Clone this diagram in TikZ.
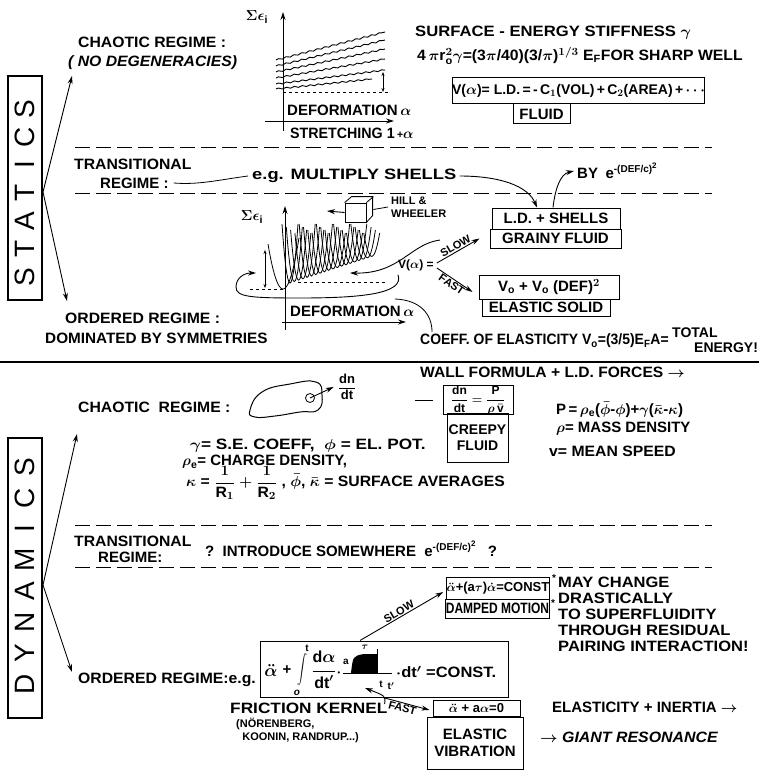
\documentclass[tikz,border=0pt]{standalone}
\usepackage{graphicx}
\usepackage{fontspec}
\setmainfont{Liberation Sans}
\usetikzlibrary{arrows.meta,positioning,calc,decorations.pathmorphing}
\newcommand{\gexp}{e\raisebox{6pt}{\fontsize{10}{10}\selectfont -(DEF/c)\raisebox{4pt}{\fontsize{8}{8}\selectfont 2}}}

\begin{document}
\begin{tikzpicture}[x=1pt, y=-1pt,
font=\fontsize{15}{17}\selectfont\bfseries\boldmath,
txt/.style={anchor=west, inner sep=0pt},
smalltxt/.style={txt, font=\fontsize{11}{13}\selectfont\bfseries},
formbox/.style={draw, line width=1pt, inner sep=0pt, align=center},
sidebox/.style={draw, line width=1.2pt, minimum width=34pt},
letter/.style={rotate=90, font=\fontsize{28}{28}\selectfont},
arr/.style={-{Stealth[length=8pt, width=5pt]}, line width=0.9pt},
dbl/.style={{Stealth[length=4pt, width=3pt]}-{Stealth[length=4pt, width=3pt]}, line width=0.8pt},
fine/.style={line width=0.8pt},
sep/.style={line width=1pt, dash pattern=on 15pt off 6pt},
wave/.style={line width=0.9pt, decorate, decoration={snake, amplitude=0.7pt, segment length=8pt}},
tag/.style={font=\fontsize{11}{11}\selectfont\bfseries, inner sep=1pt},
tiny/.style={font=\fontsize{10}{10}\selectfont\bfseries\boldmath, inner sep=0pt}
]
\useasboundingbox (0,0) rectangle (759,770);

% ---- statics ----
\node[sidebox, minimum height=224pt] (statics) at (25,188) {};
\foreach \ch [count=\i from 0] in {S,T,A,T,I,C,S}
  \node[letter] at (25,{277-\i*28}) {\ch};
\coordinate (sfork) at (43,192);
\coordinate (schaos) at (72,76);
\coordinate (sorder) at (67,301);
\draw[arr] (sfork) -- (schaos);
\draw[arr] (sfork) -- (sorder);

\node[txt, xscale=1.05] (schaotic) at (78,42) {CHAOTIC REGIME :};
\node[txt, xscale=1.05, font=\fontsize{15}{17}\selectfont\bfseries\itshape] (nodeg) at (68,63) {( NO DEGENERACIES)};

% smooth spectrum
\draw[arr] (283,131) -- (283,12);
\node at (257,17) {$\Sigma\epsilon_{\mathrm i}$};
\foreach \ya/\yb/\xe in {60/32/385, 66/40/385, 72/49/385, 78/59/385, 84/70/385, 89/79/372}
  \draw[wave] (276,\ya) -- (\xe,\yb);
\draw[dashed, fine] (283,92) -- (390,92);
\draw[dbl] (383,72) -- (383,92);
\draw[arr] (265,121) -- (394,121);
\node[txt] (sdef) at (287,110) {DEFORMATION\,$\alpha$};
\node[txt, xscale=0.95] (sstr) at (290,133) {STRETCHING 1\,{\fontsize{11}{11}\selectfont+}$\alpha$};

\node[txt, xscale=1.11] (surf) at (415,33) {SURFACE - ENERGY STIFFNESS $\gamma$};
\node[txt, xscale=1.05] (sharp) at (417,56) {4\,$\pi$r$_{\mathrm o}^2\gamma$=(3$\pi$/40)(3/$\pi$)$^{1/3}$ E$_{\mathrm F}$FOR SHARP WELL};
\node[formbox, minimum width=219pt, minimum height=26pt, font=\fontsize{14}{16}\selectfont\bfseries\boldmath] (vld) at (578.5,91) {V($\alpha$)= L.D.\,=\,-\,C$_1$(VOL)\,+\,C$_2$(AREA)\,+\,$\cdots$};
\node[formbox, minimum width=57pt, minimum height=20pt] (fluid) at (541.5,114) {FLUID};

\draw[sep] (75,148) -- (712,148);
\node[txt, xscale=1.05] (strans) at (74,164) {TRANSITIONAL};
\node[txt] (stransb) at (100,183) {REGIME :};
\node[txt, xscale=1.22] (shells) at (252,176) {e.g. MULTIPLY SHELLS};
\draw[fine] ([xshift=5pt]stransb.east) .. controls +(25,2) and +(-30,4) .. ([xshift=-4pt]shells.west);
\node[txt] (by) at (577,171) {BY\enspace\gexp};
\draw[sep] (75,193) -- (712,193);

% shell-corrected spectrum
\draw[arr] (285,330) -- (285,206);
\node at (252,217) {$\Sigma\epsilon_{\mathrm i}$};
\draw[arr] (282,322) -- (406,322);
\node[txt] (odef) at (290,311) {DEFORMATION\,$\alpha$};
\draw[fine] plot[domain=-15:16, samples=25] ({283+\x},{289-0.2*\x*\x});
\foreach \i in {0,...,19} {
  \pgfmathsetmacro\xo{290+4.3*\i}
  \pgfmathsetmacro\yo{283-1.4*\i}
  \pgfmathsetmacro\kk{(\yo-224-mod(\i,4)*3)/64}
  \draw[fine] plot[domain=-8:8, samples=15] ({\xo+\x},{\yo-\kk*\x*\x});
}
\draw[dashed, fine] (250,289) -- (283,289);
\draw[dashed, fine] (298,282) -- (387,282);
\draw[dbl] (265,250) -- (265,288);

% Hill-Wheeler cube
\node[draw, fine, minimum width=21pt, minimum height=19pt, inner sep=0pt] (cube) at (355.5,212.5) {};
\draw[fine] (cube.north west) -- ++(7,-6) -- ++(21,0) -- ++(0,19) -- (cube.south east);
\draw[fine] (cube.north east) -- ++(7,-6);
\node[smalltxt, align=left] (hill) at (391,207) {HILL \&\\WHEELER};
\coordinate (cubeL) at (327,211);
\draw[arr] (cube.west) -- (cubeL);
\draw[fine] ([xshift=7pt,yshift=3pt]cube.east) -- ([xshift=-3pt]hill.west);

\node[formbox, minimum width=128pt, minimum height=21pt] (ldsh) at (556,218.5) {L.D. + SHELLS};
\node[formbox, minimum width=131pt, minimum height=19pt] (grainy) at (555.5,238.5) {GRAINY FLUID};
\draw[arr] ([xshift=3pt]shells.east) .. controls (500,176) and (528,186) .. ([xshift=-19pt]ldsh.north);
\draw[arr] ([xshift=-3pt]ldsh.north) .. controls (555,190) and (560,174) .. ([xshift=-3pt]by.west);

\node[formbox, minimum width=140pt, minimum height=24pt] (vo) at (549,287) {V$_{\mathrm o}$ + V$_{\mathrm o}$ (DEF)$^2$};
\node[formbox, minimum width=128pt, minimum height=17pt] (esolid) at (546,307.5) {ELASTIC SOLID};

\node[txt, font=\fontsize{12}{12}\selectfont\bfseries\boldmath] (valpha) at (398,265) {V($\alpha$) =};
\draw[arr] ([xshift=3pt,yshift=2pt]valpha.east) -- node[sloped, above, tag] {SLOW} ([xshift=-10pt]grainy.west);
\draw[arr] ([xshift=3pt,yshift=-3pt]valpha.east) -- node[sloped, below, tag] {FAST} ([xshift=-6pt,yshift=-5pt]vo.west);
\coordinate (upstart) at (440,240);
\coordinate (envR) at (350,273);
\draw[arr] (upstart) .. controls (410,244) and (400,274) .. (envR);
\coordinate (loopEnd) at (256,273);
\draw[arr] ([yshift=-4pt]valpha.south west) .. controls (405,294) and (360,298) .. (300,298) .. controls (250,298) and (236,297) .. (236,287) .. controls (236,278) and (244,273) .. (loopEnd);

\node[txt, xscale=1.05] (sorder1) at (65,318) {ORDERED REGIME :};
\node[txt, xscale=1.02] (sorder2) at (45,338) {DOMINATED BY SYMMETRIES};

\node[txt, xscale=0.93] (coeff) at (420,341) {COEFF. OF ELASTICITY V$_{\mathrm o}$=(3/5)E$_{\mathrm F}$A=};
\node[txt, font=\fontsize{14}{14}\selectfont\bfseries] (total) at (672,333) {TOTAL};
\node[txt, font=\fontsize{14}{14}\selectfont\bfseries] (energy) at (694,348) {ENERGY!};
\coordinate (coeffJoin) at (395,299);
\draw[fine] ([xshift=12pt, yshift=2pt]coeff.north west) .. controls (432,314) and (420,300) .. (coeffJoin);

\draw[line width=1.2pt] (0,362) -- (759,362);

% ---- dynamics ----
\node[sidebox, minimum height=280pt] (dynamics) at (25,578) {};
\foreach \ch [count=\i from 0] in {D,Y,N,A,M,I,C,S}
  \node[letter] at (25,{684-\i*31}) {\ch};
\coordinate (dfork) at (43,585);
\coordinate (dchaos) at (77,434);
\coordinate (dorder) at (72,672);
\draw[arr] (dfork) -- (dchaos);
\draw[arr] (dfork) -- (dorder);

\node[txt, xscale=1.05] (dchaotic) at (78,407) {CHAOTIC\ \ REGIME :};
\draw[line width=1pt] plot[smooth cycle, tension=0.8] coordinates {(250,410) (262,392) (290,384) (316,382) (322,395) (318,410) (300,412) (275,416) (255,417)};
\node[circle, draw, fine, minimum size=9pt, inner sep=0pt] (dot) at (310,398) {};
\node[inner sep=1pt, font=\fontsize{13}{13}\selectfont\bfseries] (dndt) at (347,387) {$\displaystyle\frac{\mbox{dn}}{\mbox{dt}}$};
\draw[arr] (dot.center) -- ([xshift=-3pt]dndt.west);

\node[txt, xscale=1.04] (wall) at (420,372) {WALL FORMULA + L.D. FORCES $\rightarrow$};
\node[formbox, minimum width=70pt, minimum height=26pt, font=\fontsize{12}{12}\selectfont\bfseries\boldmath] (dnbox) at (478,400) {$\displaystyle\frac{\mbox{dn}}{\mbox{dt}} = \frac{\mbox{P}}{\rho\,\bar{\mbox{v}}}$};
\node[formbox, minimum width=61pt, minimum height=49pt, font=\fontsize{14}{16}\selectfont\bfseries] (creepy) at (477.5,437.5) {CREEPY\\FLUID};
\draw[fine] ([xshift=-10pt]dnbox.west) -- ([xshift=-28pt]dnbox.west);

\node[txt] (pform) at (556,410) {P\,=\,$\rho_{\mathrm e}$($\bar\phi$-$\phi$)+$\gamma$($\bar\kappa$-$\kappa$)};
\node[txt] (rho) at (556,429) {$\rho$= MASS DENSITY};
\node[txt, xscale=1.05] (vmean) at (549,451) {v= MEAN SPEED};

\node[txt, xscale=1.15] (gam) at (190,446) {$\gamma$= S.E. COEFF,\ \ $\phi$ = EL. POT.};
\node[txt] (rhoe) at (182,462) {$\rho_{\mathrm e}$= CHARGE DENSITY,};
\node[txt, xscale=1.05] (kap) at (186,483) {$\kappa$ = $\displaystyle\frac{1}{\mbox{R}_1}+\frac{1}{\mbox{R}_2}$ , $\bar\phi$, $\bar\kappa$ = SURFACE AVERAGES};

\draw[sep] (75,525) -- (712,525);
\node[txt, xscale=1.05] (dtrans) at (74,541) {TRANSITIONAL};
\node[txt] (dtransb) at (98,557) {REGIME:};
\node[txt] (intro) at (205,549) {?\ \ INTRODUCE SOMEWHERE\ \ \gexp\ \ \ ?};
\draw[sep] (75,567) -- (712,567);

\node[formbox, minimum width=100pt, minimum height=22pt, font=\fontsize{13}{13}\selectfont\bfseries\boldmath] (damp) at (498,588) {$\ddot\alpha$+(a$\tau$)$\dot\alpha$=CONST};
\node[formbox, minimum width=101pt, minimum height=19pt] (dmot) at (497.5,608.5) {\scalebox{0.8}[1]{DAMPED MOTION}};
\node[txt, font=\fontsize{10}{10}\selectfont\bfseries] (ast1) at (551,603) {*};
\node[txt, font=\fontsize{10}{10}\selectfont\bfseries] (ast2) at (552,578) {*};
\node[txt, align=left, xscale=1.1, font=\fontsize{15}{16}\selectfont\bfseries] (maych) at (558,614) {MAY CHANGE\\DRASTICALLY\\TO SUPERFLUIDITY\\THROUGH RESIDUAL\\PAIRING INTERACTION!};

% friction kernel equation
\node[formbox, minimum width=248pt, minimum height=56pt] (fric) at (384,669) {};
\node[inner sep=0pt, font=\fontsize{16}{16}\selectfont\bfseries\boldmath] (fdd) at (271,670) {$\ddot\alpha$};
\node[inner sep=0pt] (fplus) at (287,670) {+};
\node[inner sep=0pt, font=\fontsize{20}{20}\selectfont] (fintg) at (302,670) {\scalebox{1}[1.45]{$\displaystyle\int$}};
\node[tiny] (ftop) at (307,648) {t};
\node[tiny, font=\fontsize{10}{10}\selectfont\itshape\bfseries] (fbot) at (297,693) {o};
\node[inner sep=0pt, font=\fontsize{16}{16}\selectfont\bfseries\boldmath] (ffrac) at (324,670) {$\displaystyle\frac{\mbox{d}\alpha}{\mbox{dt}'}$};
\node[inner sep=0pt] (fdot) at (339,673) {$\cdot$};
\draw[fine] (343,673) -- (392,673);
\fill (351,673) .. controls (353,656) .. (364,654) -- (377,654) -- (377,673) -- cycle;
\draw[fine] (377,649) -- (377,673);
\node[tiny] (ka) at (346,662) {a};
\node[tiny] (ktau) at (365,647) {$\tau$};
\node[tiny] (kt) at (381,684) {t};
\node[tiny] (ktp) at (391,686) {t$'$};
\node[txt, xscale=1.1] (fend) at (396,672) {$\cdot$dt$'$ =CONST.};
\node[txt, xscale=1.05] (dorder1) at (78,680) {ORDERED REGIME:e.g.};

\node[formbox, minimum width=87pt, minimum height=16pt, font=\fontsize{13}{13}\selectfont\bfseries\boldmath] (elast) at (476.5,708) {$\ddot\alpha$ + a$\alpha$=0};
\node[formbox, minimum width=96pt, minimum height=52pt] (evib) at (475,743) {ELASTIC\\VIBRATION};
\draw[arr] ([xshift=-24pt]fric.north) -- node[sloped, above, tag] {SLOW} ([xshift=-3pt, yshift=-4pt]damp.west);
\draw[arr] ([xshift=-1pt]fric.south) -- node[sloped, below, tag, pos=0.45] {FAST} ([xshift=-3pt, yshift=-2pt]elast.west);

\node[txt, xscale=1.15] (fker) at (230,708) {FRICTION KERNEL};
\coordinate (kern) at (365,688);
\draw[arr] ([xshift=-3pt, yshift=4pt]fker.east) .. controls +(1,-8) .. (kern);
\node[smalltxt, align=left] (nor) at (236,730) {(NÖRENBERG,\\\ \ KOONIN, RANDRUP...)};

\node[txt] (inert) at (552,707) {ELASTICITY + INERTIA $\rightarrow$};
\node[txt, xscale=1.06] (giant) at (540,737) {$\rightarrow$ \textit{GIANT RESONANCE}};
\end{tikzpicture}
\end{document}
